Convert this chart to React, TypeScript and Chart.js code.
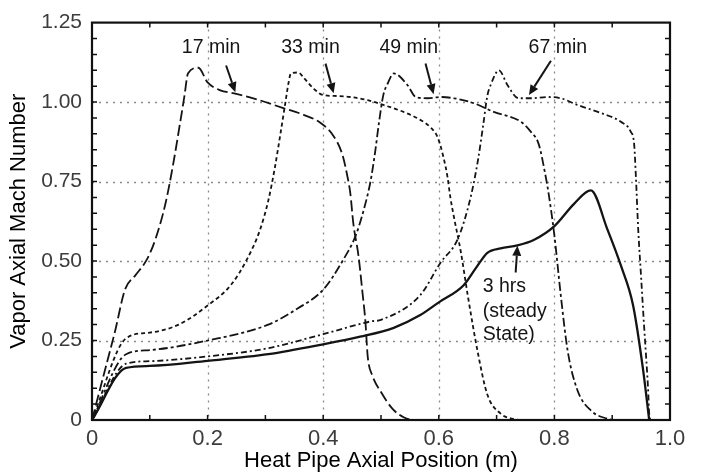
import React, { useEffect, useRef } from "react";
import { Chart, registerables } from "chart.js";

Chart.register(...registerables);

// ---- tick values / labels ----
const xTickValues = [0, 0.2, 0.4, 0.6, 0.8, 1.0];
const xTickLabels = ["0", "0.2", "0.4", "0.6", "0.8", "1.0"];
const yTickValues = [0, 0.25, 0.5, 0.75, 1.0, 1.25];
const yTickLabels = ["0", "0.25", "0.50", "0.75", "1.00", "1.25"];

// ---- series: 17 min ----
const x17 = [0, 0.02, 0.04, 0.057, 0.075, 0.095, 0.11, 0.127, 0.14, 0.152, 0.16, 0.166, 0.184, 0.2, 0.222, 0.244, 0.279, 0.331, 0.366, 0.395, 0.416, 0.433, 0.442, 0.447, 0.452, 0.461, 0.468, 0.473, 0.477, 0.485, 0.5, 0.52, 0.54, 0.56, 1.0];
const y17 = [0, 0.14, 0.28, 0.41, 0.455, 0.505, 0.57, 0.68, 0.8, 0.93, 1.02, 1.09, 1.108, 1.062, 1.037, 1.028, 1.012, 0.981, 0.96, 0.935, 0.898, 0.836, 0.765, 0.712, 0.62, 0.517, 0.4, 0.31, 0.2, 0.14, 0.088, 0.035, 0.008, 0, 0];

// ---- series: 33 min ----
const x33 = [0, 0.059, 0.1, 0.15, 0.2, 0.24, 0.268, 0.291, 0.305, 0.316, 0.326, 0.333, 0.34, 0.344, 0.357, 0.366, 0.383, 0.4, 0.425, 0.447, 0.477, 0.504, 0.539, 0.568, 0.586, 0.598, 0.608, 0.615, 0.62, 0.626, 0.638, 0.65, 0.667, 0.684, 0.707, 0.73, 0.75, 1.0];
const y33 = [0, 0.257, 0.275, 0.3, 0.36, 0.424, 0.505, 0.6, 0.69, 0.79, 0.9, 0.98, 1.06, 1.09, 1.093, 1.077, 1.043, 1.022, 1.019, 1.016, 1.006, 0.991, 0.969, 0.944, 0.92, 0.889, 0.827, 0.765, 0.7, 0.64, 0.53, 0.393, 0.217, 0.08, 0.02, 0.003, 0, 0];

// ---- series: 49 min ----
const x49 = [0, 0.059, 0.1, 0.2, 0.305, 0.355, 0.4, 0.435, 0.456, 0.47, 0.482, 0.49, 0.496, 0.504, 0.512, 0.522, 0.546, 0.56, 0.581, 0.603, 0.626, 0.66, 0.695, 0.742, 0.759, 0.773, 0.785, 0.79, 0.8, 0.811, 0.823, 0.84, 0.863, 0.89, 0.91, 1.0];
const y49 = [0, 0.207, 0.22, 0.25, 0.3, 0.35, 0.41, 0.505, 0.579, 0.66, 0.752, 0.845, 0.929, 1.022, 1.06, 1.09, 1.053, 1.016, 1.012, 1.016, 1.012, 0.997, 0.969, 0.938, 0.907, 0.867, 0.765, 0.712, 0.58, 0.393, 0.217, 0.093, 0.03, 0.005, 0, 0];

// ---- series: 67 min ----
const x67 = [0, 0.059, 0.1, 0.2, 0.305, 0.4, 0.482, 0.5, 0.568, 0.603, 0.633, 0.655, 0.668, 0.677, 0.684, 0.69, 0.704, 0.719, 0.738, 0.759, 0.788, 0.811, 0.84, 0.88, 0.915, 0.932, 0.938, 0.941, 0.945, 0.95, 0.955, 0.958, 0.962, 0.964, 0.966];
const y67 = [0, 0.177, 0.185, 0.2, 0.226, 0.27, 0.31, 0.315, 0.393, 0.495, 0.57, 0.7, 0.82, 0.93, 1.02, 1.055, 1.1, 1.053, 1.012, 1.012, 1.016, 1.012, 0.991, 0.966, 0.938, 0.907, 0.867, 0.765, 0.6, 0.45, 0.3, 0.217, 0.1, 0.02, 0];

// ---- series: 3 hrs (steady state) ----
const xSS = [0, 0.059, 0.1, 0.2, 0.305, 0.4, 0.464, 0.522, 0.568, 0.6, 0.643, 0.665, 0.684, 0.707, 0.736, 0.765, 0.8, 0.834, 0.863, 0.892, 0.915, 0.936, 0.953, 0.964];
const ySS = [0, 0.164, 0.17, 0.186, 0.207, 0.238, 0.262, 0.29, 0.33, 0.37, 0.424, 0.48, 0.526, 0.54, 0.549, 0.567, 0.61, 0.68, 0.722, 0.598, 0.486, 0.362, 0.164, 0];

// ---- annotations (data units) ----
const noteTexts = ["17 min", "33 min", "49 min", "67 min"];
const noteX = [0.206, 0.378, 0.548, 0.806];
const noteY = [1.17, 1.17, 1.17, 1.17];
const arrowFromX = [0.232, 0.404, 0.577, 0.794, 0.733];
const arrowFromY = [1.115, 1.121, 1.121, 1.13, 0.464];
const arrowToX = [0.248, 0.418, 0.591, 0.756, 0.736];
const arrowToY = [1.031, 1.028, 1.025, 1.022, 0.548];
const ssLines = ["3 hrs", "(steady", "State)"];
const ssX = 0.676;
const ssY = [0.418, 0.341, 0.269];

const FONT = '"Liberation Sans", Arial, Helvetica, sans-serif';
const INK = "#141414";

function pts(xs: number[], ys: number[]) {
  return xs.map((v, i) => ({ x: v, y: ys[i] }));
}

const framePlugin = {
  id: "framePlugin",
  beforeDatasetsDraw(chart: any) {
    const { ctx, chartArea: a, scales } = chart;
    const xs = scales.x, ys = scales.y;
    ctx.save();
    ctx.strokeStyle = "#8a8a8a";
    ctx.lineWidth = 1.3;
    ctx.setLineDash([2, 5]);
    xTickValues.slice(1, -1).forEach((v) => {
      const px = Math.round(xs.getPixelForValue(v)) + 0.5;
      ctx.beginPath();
      ctx.moveTo(px, a.top);
      ctx.lineTo(px, a.bottom);
      ctx.stroke();
    });
    yTickValues.slice(1, -1).forEach((v) => {
      const py = Math.round(ys.getPixelForValue(v)) + 0.5;
      ctx.beginPath();
      ctx.moveTo(a.left, py);
      ctx.lineTo(a.right, py);
      ctx.stroke();
    });
    ctx.restore();
  },
  afterDatasetsDraw(chart: any) {
    const { ctx, chartArea: a, scales } = chart;
    const xs = scales.x, ys = scales.y;
    ctx.save();
    ctx.strokeStyle = "#111";
    ctx.lineWidth = 1.5;
    ctx.setLineDash([]);
    const tl = 5;
    for (let i = 1; i < 10; i++) {
      const px = xs.getPixelForValue(i / 10);
      ctx.beginPath();
      ctx.moveTo(px, a.bottom);
      ctx.lineTo(px, a.bottom - tl);
      ctx.moveTo(px, a.top);
      ctx.lineTo(px, a.top + tl);
      ctx.stroke();
    }
    for (let i = 1; i < 25; i++) {
      const py = ys.getPixelForValue(i * 0.05);
      ctx.beginPath();
      ctx.moveTo(a.left, py);
      ctx.lineTo(a.left + tl, py);
      ctx.moveTo(a.right, py);
      ctx.lineTo(a.right - tl, py);
      ctx.stroke();
    }
    ctx.lineWidth = 2.2;
    ctx.strokeRect(a.left, a.top, a.right - a.left, a.bottom - a.top);

    // annotations
    ctx.fillStyle = INK;
    ctx.strokeStyle = INK;
    ctx.font = `19.5px ${FONT}`;
    ctx.textAlign = "center";
    ctx.textBaseline = "middle";
    noteTexts.forEach((t, i) => {
      ctx.fillText(t, xs.getPixelForValue(noteX[i]), ys.getPixelForValue(noteY[i]));
    });
    ctx.textAlign = "left";
    ssLines.forEach((t, i) => {
      ctx.fillText(t, xs.getPixelForValue(ssX), ys.getPixelForValue(ssY[i]));
    });
    arrowFromX.forEach((fx, i) => {
      const x0 = xs.getPixelForValue(fx), y0 = ys.getPixelForValue(arrowFromY[i]);
      const x1 = xs.getPixelForValue(arrowToX[i]), y1 = ys.getPixelForValue(arrowToY[i]);
      const ang = Math.atan2(y1 - y0, x1 - x0);
      const hl = 10, hw = 4.5;
      const bx = x1 - hl * Math.cos(ang), by = y1 - hl * Math.sin(ang);
      ctx.lineWidth = 2;
      ctx.beginPath();
      ctx.moveTo(x0, y0);
      ctx.lineTo(bx, by);
      ctx.stroke();
      ctx.beginPath();
      ctx.moveTo(x1, y1);
      ctx.lineTo(bx + hw * Math.sin(ang), by - hw * Math.cos(ang));
      ctx.lineTo(bx - hw * Math.sin(ang), by + hw * Math.cos(ang));
      ctx.closePath();
      ctx.fill();
    });
    ctx.restore();
  },
};

export default function App() {
  const ref = useRef<HTMLCanvasElement | null>(null);
  useEffect(() => {
    if (!ref.current) return;
    const mk = (label: string, xs: number[], ys: number[], dash: number[], w: number) => ({
      label,
      data: pts(xs, ys),
      showLine: true,
      borderColor: INK,
      backgroundColor: INK,
      borderWidth: w,
      borderDash: dash,
      pointRadius: 0,
      cubicInterpolationMode: "monotone" as const,
      fill: false,
    });
    const chart = new Chart(ref.current, {
      type: "scatter",
      data: {
        datasets: [
          mk("17 min", x17, y17, [11, 4], 1.8),
          mk("33 min", x33, y33, [4, 3], 1.8),
          mk("49 min", x49, y49, [9, 3, 3, 3], 1.8),
          mk("67 min", x67, y67, [6, 3, 2, 3], 1.8),
          mk("3 hrs (steady State)", xSS, ySS, [], 2.3),
        ],
      },
      options: {
        animation: false,
        responsive: false,
        devicePixelRatio: 1,
        layout: { padding: { left: 0, top: 15, right: 31, bottom: 0 } },
        plugins: { legend: { display: false }, tooltip: { enabled: false } },
        scales: {
          x: {
            type: "linear",
            min: 0,
            max: 1,
            afterFit: (s: any) => { s.height = 54; },
            afterBuildTicks: (s: any) => { s.ticks = xTickValues.map((v) => ({ value: v })); },
            grid: { display: false, drawTicks: false },
            border: { display: false },
            ticks: {
              padding: 6,
              color: "#3c3c3c",
              font: { family: FONT, size: 22 },
              maxRotation: 0,
              autoSkip: false,
              callback: (_v: any, i: number) => xTickLabels[i],
            },
            title: {
              display: true,
              text: "Heat Pipe Axial Position (m)",
              color: "#000",
              font: { family: FONT, size: 22 },
              padding: { top: 0, bottom: 0 },
            },
          },
          y: {
            type: "linear",
            min: 0,
            max: 1.25,
            afterFit: (s: any) => { s.width = 92; },
            afterBuildTicks: (s: any) => { s.ticks = yTickValues.map((v) => ({ value: v })); },
            grid: { display: false, drawTicks: false },
            border: { display: false },
            ticks: {
              padding: 10,
              color: "#3c3c3c",
              font: { family: FONT, size: 21 },
              autoSkip: false,
              callback: (_v: any, i: number) => yTickLabels[i],
            },
            title: {
              display: true,
              text: "Vapor Axial Mach Number",
              color: "#000",
              font: { family: FONT, size: 22 },
              padding: { top: 6, bottom: 0 },
            },
          },
        },
      },
      plugins: [framePlugin],
    });
    return () => chart.destroy();
  }, []);
  return (
    <div style={{ position: "fixed", left: 0, top: 0, width: 701, height: 474, background: "#fff" }}>
      <canvas ref={ref} width={701} height={474} style={{ width: 701, height: 474, display: "block" }} />
    </div>
  );
}
